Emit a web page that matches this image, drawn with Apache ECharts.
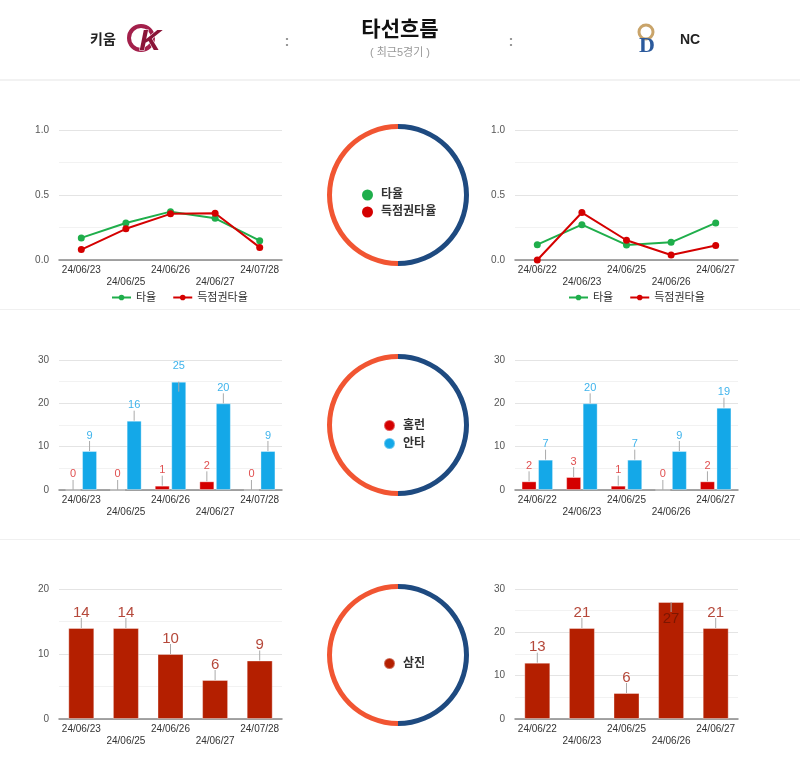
<!DOCTYPE html>
<html style="height: 100%">
<head>
    <meta charset="utf-8">
</head>
<body style="height: 100%; margin: 0; background-color: #fff;">
<div id="container" style="width: 800px; height: 763px"></div>
<script type="text/javascript" src="https://cdn.jsdelivr.net/npm/echarts@6/dist/echarts.min.js"></script>
<script type="text/javascript">
    // 최근 5경기 데이터 (키움 = 왼쪽, NC = 오른쪽)
    var dates1 = ['24/06/23', '24/06/25', '24/06/26', '24/06/27', '24/07/28'];
    var dates2 = ['24/06/22', '24/06/23', '24/06/25', '24/06/26', '24/06/27'];
    var avg1 = [0.170, 0.285, 0.372, 0.321, 0.149];
    var risp1 = [0.080, 0.240, 0.355, 0.360, 0.097];
    var avg2 = [0.118, 0.272, 0.116, 0.136, 0.285];
    var risp2 = [0.000, 0.365, 0.152, 0.039, 0.111];
    var hr1 = [0, 0, 1, 2, 0];
    var hits1 = [9, 16, 25, 20, 9];
    var hr2 = [2, 3, 1, 0, 2];
    var hits2 = [7, 20, 7, 9, 19];
    var so1 = [14, 14, 10, 6, 9];
    var so2 = [13, 21, 6, 27, 21];
    var halves = [1, 1]; // NC / 키움 반원

    var FONT = '"Liberation Sans", Arial, "Noto Sans CJK KR", sans-serif';
    var GREEN = '#1fae4b', RED = '#d40000', BLUE = '#14a8e8', DRED = '#b41f00';

    var dom = document.getElementById('container');
    var myChart = echarts.init(dom);

    var gridPos = [
        {left: 59, top: 130}, {left: 515, top: 130},
        {left: 59, top: 360}, {left: 515, top: 360},
        {left: 59, top: 589}, {left: 515, top: 589}
    ];
    var grids = gridPos.map(function (g) {
        return {left: g.left, top: g.top, width: 223, height: 130};
    });

    function xAxis(i, dates) {
        return {
            type: 'category', gridIndex: i, data: dates,
            axisTick: {show: false},
            axisLine: {lineStyle: {color: '#888', width: 1.5}},
            axisLabel: {
                interval: 0, fontSize: 10, color: '#333', fontFamily: FONT,
                lineHeight: 12, margin: 4,
                formatter: function (v, idx) { return idx % 2 ? '\n' + v : v; }
            }
        };
    }
    function yAxis(i, max, interval, digits) {
        return {
            type: 'value', gridIndex: i, min: 0, max: max, interval: interval,
            axisLine: {show: false}, axisTick: {show: false},
            splitLine: {lineStyle: {color: '#e4e4e4'}},
            minorTick: {show: false, splitNumber: 2},
            minorSplitLine: {show: true, lineStyle: {color: '#f2f2f2'}},
            axisLabel: {
                fontSize: 10, color: '#555', fontFamily: FONT, margin: 10,
                formatter: function (v) { return v.toFixed(digits); }
            }
        };
    }

    function lineSeries(name, data, color, i) {
        return {
            name: name, type: 'line', xAxisIndex: i, yAxisIndex: i, data: data,
            color: color, symbol: 'circle', symbolSize: 7,
            lineStyle: {width: 2}
        };
    }

    function barSeries(name, data, color, labelColor, i, width, fontSize, max, dist) {
        return {
            name: name, type: 'bar', xAxisIndex: i, yAxisIndex: i,
            barWidth: width, barGap: '10%', color: color,
            itemStyle: {borderColor: 'rgba(255,255,255,0.35)', borderWidth: 1},
            label: {show: true, position: 'top', distance: dist, color: labelColor,
                fontSize: fontSize, fontFamily: FONT},
            data: data.map(function (v) {
                if (v / max > 0.85) {
                    return {value: v, label: {position: 'insideTop', distance: 9, color: '#7d1600'}};
                }
                return v;
            })
        };
    }

    function stemSeries(data, i, offset) {
        return {
            type: 'custom', xAxisIndex: i, yAxisIndex: i, silent: true, z: 5,
            data: data.map(function (v, k) { return [k, v]; }),
            encode: {x: 0, y: 1},
            renderItem: function (params, api) {
                var p = api.coord([api.value(0), api.value(1)]);
                var x = p[0] + offset;
                var len = (p[1] - params.coordSys.y < 22) ? -10 : 10;
                return {
                    type: 'line',
                    shape: {x1: x, y1: p[1], x2: x, y2: p[1] - len},
                    style: {stroke: '#aaa', lineWidth: 1}
                };
            }
        };
    }

    function ring(cy) {
        return {
            type: 'pie', center: [398, cy], radius: [66, 71], startAngle: 90,
            silent: true, label: {show: false}, labelLine: {show: false},
            data: [
                {name: 'NC', value: halves[0], itemStyle: {color: '#1e4a80'}},
                {name: '키움', value: halves[1], itemStyle: {color: '#f15532'}}
            ]
        };
    }

    var circleLegend = {
        orient: 'vertical', icon: 'circle', itemWidth: 11, itemHeight: 11, itemGap: 5,
        textStyle: {fontSize: 12, fontWeight: 'bold', color: '#333', fontFamily: FONT, padding: [0, 0, 0, 3]},
        selectedMode: false
    };

    var option = {
        animation: false,
        grid: grids,
        xAxis: [xAxis(0, dates1), xAxis(1, dates2), xAxis(2, dates1), xAxis(3, dates2), xAxis(4, dates1), xAxis(5, dates2)],
        yAxis: [yAxis(0, 1, 0.5, 1), yAxis(1, 1, 0.5, 1), yAxis(2, 30, 10, 0), yAxis(3, 30, 10, 0), yAxis(4, 20, 10, 0), yAxis(5, 30, 10, 0)],
        legend: [
            {left: 106, top: 287, itemWidth: 19, itemHeight: 7, itemGap: 16, selectedMode: false,
                textStyle: {fontSize: 11, color: '#333', fontFamily: FONT}, data: ['타율', '득점권타율']},
            {left: 563, top: 287, itemWidth: 19, itemHeight: 7, itemGap: 16, selectedMode: false,
                textStyle: {fontSize: 11, color: '#333', fontFamily: FONT}, data: ['타율', '득점권타율']},
            Object.assign({left: 357, top: 184, data: ['타율', '득점권타율']}, circleLegend),
            Object.assign({left: 378, top: 414, data: ['홈런', '안타']}, circleLegend),
            Object.assign({left: 378, top: 652, data: ['삼진']}, circleLegend)
        ],
        graphic: [
            {type: 'rect', shape: {x: 0, y: 79, width: 800, height: 2}, style: {fill: '#f2f2f2'}},
            {type: 'rect', shape: {x: 0, y: 309, width: 800, height: 1}, style: {fill: '#f0f0f0'}},
            {type: 'rect', shape: {x: 0, y: 539, width: 800, height: 1}, style: {fill: '#f0f0f0'}},
            {type: 'text', x: 90, y: 40, style: {text: '키움', fontSize: 14, fontWeight: 'bold', fill: '#222', fontFamily: FONT, verticalAlign: 'middle'}},
            {type: 'circle', shape: {cx: 141, cy: 38, r: 12}, style: {fill: 'none', stroke: '#a3204b', lineWidth: 4}},
            {type: 'text', x: 150, y: 42, style: {text: 'K', fontSize: 30, fontWeight: 'bold', fontStyle: 'italic', fill: '#8a1538', stroke: '#fff', lineWidth: 1, fontFamily: FONT, align: 'center', verticalAlign: 'middle'}},
            {type: 'text', x: 400, y: 30, style: {text: '타선흐름', fontSize: 21, fontWeight: 'bold', fill: '#111', fontFamily: FONT, align: 'center', verticalAlign: 'middle'}},
            {type: 'text', x: 400, y: 53, style: {text: '( 최근5경기 )', fontSize: 11, fill: '#999', fontFamily: FONT, align: 'center', verticalAlign: 'middle'}},
            {type: 'text', x: 287, y: 42, style: {text: ':', fontSize: 15, fontWeight: 'bold', fill: '#999', fontFamily: FONT, align: 'center', verticalAlign: 'middle'}},
            {type: 'text', x: 511, y: 42, style: {text: ':', fontSize: 15, fontWeight: 'bold', fill: '#999', fontFamily: FONT, align: 'center', verticalAlign: 'middle'}},
            {type: 'circle', shape: {cx: 646, cy: 32, r: 7}, style: {fill: 'none', stroke: '#c9a46a', lineWidth: 3}},
            {type: 'text', x: 647, y: 46, style: {text: 'D', fontSize: 22, fontWeight: 'bold', fill: '#2c5a9c', fontFamily: '"Liberation Serif", serif', align: 'center', verticalAlign: 'middle'}},
            {type: 'text', x: 680, y: 40, style: {text: 'NC', fontSize: 14, fontWeight: 'bold', fill: '#222', fontFamily: FONT, verticalAlign: 'middle'}}
        ],
        series: [
            lineSeries('타율', avg1, GREEN, 0),
            lineSeries('득점권타율', risp1, RED, 0),
            lineSeries('타율', avg2, GREEN, 1),
            lineSeries('득점권타율', risp2, RED, 1),

            barSeries('홈런', hr1, RED, '#e05050', 2, 15, 11, 30, 10),
            barSeries('안타', hits1, BLUE, '#40b4ec', 2, 15, 11, 30, 10),
            barSeries('홈런', hr2, RED, '#e05050', 3, 15, 11, 30, 10),
            barSeries('안타', hits2, BLUE, '#40b4ec', 3, 15, 11, 30, 10),
            stemSeries(hr1, 2, -8.25), stemSeries(hits1, 2, 8.25),
            stemSeries(hr2, 3, -8.25), stemSeries(hits2, 3, 8.25),

            barSeries('삼진', so1, DRED, '#b5483a', 4, 26, 15, 20, 8),
            barSeries('삼진', so2, DRED, '#b5483a', 5, 26, 15, 30, 8),
            stemSeries(so1, 4, 0), stemSeries(so2, 5, 0),

            ring(195), ring(425), ring(655)
        ]
    };
    myChart.setOption(option);
</script>
</body>
</html>
